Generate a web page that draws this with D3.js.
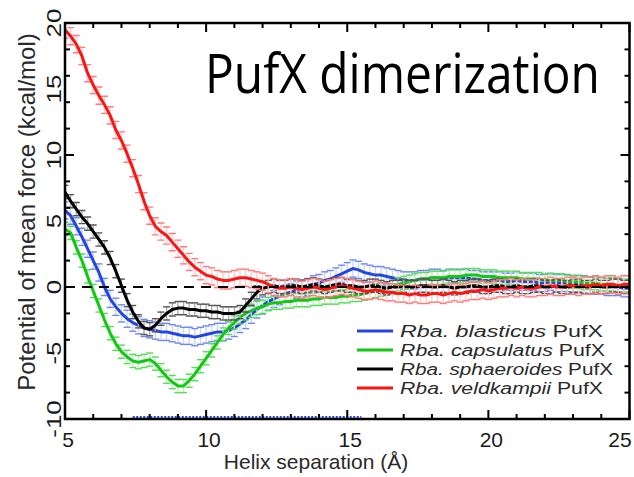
<!DOCTYPE html>
<html><head><meta charset="utf-8">
<script src="https://cdn.jsdelivr.net/npm/d3@7"></script>
<style>body{margin:0;background:#fff}svg{display:block}</style>
</head><body>
<svg id="c" width="634" height="477"></svg>
<script>
// Sampling grid (Å) for all series
const separation = d3.range(0, 101).map(i => +(5 + i * 0.2).toFixed(1));

const blasticus = [5.8,5.4,4.6,3.8,2.9,2.0,1.1,0.0,-0.9,-1.5,
 -2.0,-2.4,-2.7,-2.9,-3.1,-3.2,-3.3,-3.4,-3.4,-3.5,
 -3.6,-3.7,-3.7,-3.8,-3.7,-3.6,-3.5,-3.4,-3.4,-3.3,
 -3.1,-2.8,-2.5,-2.1,-1.7,-1.4,-1.1,-0.9,-0.7,-0.5,
 -0.4,-0.2,-0.1,0.0,0.2,0.3,0.5,0.6,0.8,1.0,
 1.2,1.4,1.3,1.1,1.0,0.9,0.9,0.8,0.7,0.6,
 0.5,0.5,0.5,0.6,0.6,0.7,0.7,0.6,0.7,0.7,
 0.7,0.7,0.6,0.6,0.5,0.5,0.5,0.5,0.4,0.4,
 0.5,0.4,0.4,0.4,0.3,0.3,0.4,0.3,0.3,0.3,
 0.2,0.2,0.2,0.1,0.1,0.1,0.0,0.0,0.0,-0.1,-0.1];

const capsulatus = [4.4,4.1,3.0,2.0,0.8,-0.3,-1.4,-2.5,-3.5,-4.3,
 -4.9,-5.3,-5.6,-5.7,-5.6,-5.5,-5.8,-6.3,-6.8,-7.2,
 -7.5,-7.5,-7.1,-6.6,-6.0,-5.4,-4.8,-4.2,-3.6,-3.1,
 -2.7,-2.3,-2.0,-1.8,-1.6,-1.5,-1.3,-1.2,-1.2,-1.1,
 -1.1,-1.0,-1.0,-1.0,-0.9,-0.9,-0.8,-0.8,-0.8,-0.7,
 -0.7,-0.6,-0.6,-0.5,-0.4,-0.3,-0.2,-0.1,0.0,0.2,
 0.3,0.4,0.5,0.6,0.6,0.7,0.7,0.7,0.8,0.8,
 0.8,0.9,0.9,0.9,0.8,0.8,0.8,0.7,0.7,0.7,
 0.7,0.6,0.6,0.6,0.6,0.5,0.5,0.5,0.5,0.4,
 0.4,0.4,0.3,0.3,0.3,0.2,0.2,0.2,0.1,0.1,0.1];

const sphaeroides = [7.2,6.5,5.9,5.3,4.8,4.2,3.6,3.0,2.2,1.2,
 0.1,-1.0,-1.9,-2.6,-3.1,-3.2,-2.9,-2.4,-2.0,-1.7,
 -1.6,-1.6,-1.7,-1.7,-1.8,-1.8,-1.9,-1.9,-2.0,-2.0,
 -2.0,-1.9,-1.4,-0.9,-0.4,-0.1,0.0,0.1,0.0,0.0,
 0.1,0.1,0.0,0.1,0.2,0.1,0.0,0.1,0.2,0.2,
 0.1,0.1,0.0,0.0,0.1,0.1,0.0,-0.1,0.0,0.0,
 0.1,0.0,0.0,0.1,0.1,0.0,0.0,0.1,0.0,-0.1,
 0.0,0.0,0.1,0.1,0.0,0.0,0.1,0.1,0.0,0.0,
 0.1,0.0,0.0,0.1,0.1,0.0,0.0,0.1,0.0,0.0,
 0.1,0.1,0.0,0.0,0.1,0.0,0.0,0.1,0.1,0.0,0.0];

const veldkampii = [19.5,19.0,18.4,17.5,16.2,15.3,14.5,13.8,13.0,11.9,
 11.1,10.1,9.0,7.8,6.5,5.4,4.6,4.2,3.9,3.4,
 2.9,2.4,1.9,1.5,1.2,0.9,0.8,0.6,0.5,0.5,
 0.6,0.7,0.7,0.6,0.5,0.4,0.2,0.0,-0.1,-0.1,
 0.0,-0.1,-0.2,-0.1,0.0,-0.1,-0.2,-0.1,0.0,0.1,
 0.0,-0.1,-0.2,-0.3,-0.3,-0.2,-0.3,-0.4,-0.4,-0.5,
 -0.5,-0.6,-0.5,-0.6,-0.6,-0.5,-0.5,-0.6,-0.5,-0.4,
 -0.5,-0.4,-0.3,-0.3,-0.2,-0.3,-0.2,-0.1,-0.1,0.0,
 -0.1,0.0,-0.1,-0.1,0.0,0.0,0.1,0.0,0.0,0.1,
 0.1,0.0,0.1,0.1,0.2,0.1,0.2,0.2,0.1,0.2,0.2];

const seriesNames = ["Rba. blasticus", "Rba. capsulatus", "Rba. sphaeroides", "Rba. veldkampii"];
const seriesValues = [blasticus, capsulatus, sphaeroides, veldkampii];
const seriesError = [0.65, 0.5, 0.5, 0.65];
const seriesColors = ["#2346e0", "#12c812", "#000000", "#ff1414"];
const errorColors = ["#6f88ee", "#55dd55", "#555555", "#ff7a7a"];
const errorFill = ["#c9d3f8", "#bff0bf", "#aaaaaa", "#ffcccc"];

const xTickLabels = [5, 10, 15, 20, 25];
const yTickLabels = [-10, -5, 0, 5, 10, 15, 20];
const bottomMarkRange = [7.4, 15.5];

const svg = d3.select("#c");
const pLeft = 65, pRight = 629.5, pTop = 23, pBottom = 419;

const x = d3.scaleLinear().domain([5, 25]).range([pLeft, pRight]);
const y = d3.scaleLinear().domain([-10, 20]).range([pBottom, pTop]);

svg.append("defs").append("clipPath").attr("id", "clip")
  .append("rect").attr("x", pLeft).attr("y", pTop).attr("width", pRight - pLeft).attr("height", pBottom - pTop);

const plot = svg.append("g").attr("clip-path", "url(#clip)");

const line = d3.line().x(d => x(d[0])).y(d => y(d[1])).curve(d3.curveLinear);
seriesValues.forEach((vals, si) => {
  const pts = separation.map((s, i) => [s, vals[i]]);
  const e = seriesError[si];
  const g = plot.append("g");
  g.selectAll("line.v").data(pts).join("line")
    .attr("x1", d => x(d[0])).attr("x2", d => x(d[0]))
    .attr("y1", d => y(d[1] - e)).attr("y2", d => y(d[1] + e))
    .attr("stroke", errorFill[si]).attr("stroke-width", 1.3);
  [-1, 1].forEach(sgn => {
    g.append("g").selectAll("line").data(pts).join("line")
      .attr("x1", d => x(d[0]) - 3.5).attr("x2", d => x(d[0]) + 3.5)
      .attr("y1", d => y(d[1] + sgn * e)).attr("y2", d => y(d[1] + sgn * e))
      .attr("stroke", errorColors[si]).attr("stroke-width", 1.4);
  });
  g.append("path").datum(pts).attr("d", line)
    .attr("fill", "none").attr("stroke", seriesColors[si]).attr("stroke-width", 3)
    .attr("stroke-linejoin", "round");
});

plot.append("line")
  .attr("x1", x(5)).attr("x2", x(25)).attr("y1", y(0)).attr("y2", y(0))
  .attr("stroke", "#000").attr("stroke-width", 2).attr("stroke-dasharray", "10,7");

plot.append("line")
  .attr("x1", x(bottomMarkRange[0])).attr("x2", x(bottomMarkRange[1]))
  .attr("y1", y(-10) - 2).attr("y2", y(-10) - 2)
  .attr("stroke", "#2346e0").attr("stroke-width", 1.8).attr("stroke-dasharray", "2,1.5");

const xMinor = d3.range(5, 26, 1);
const yMinor = d3.range(-10, 21, 2);
const tickG = svg.append("g").attr("stroke", "#000").attr("stroke-width", 2);
xMinor.forEach(v => {
  const L = v % 5 === 0 ? 9 : 5;
  tickG.append("line").attr("x1", x(v)).attr("x2", x(v)).attr("y1", pBottom).attr("y2", pBottom - L);
  tickG.append("line").attr("x1", x(v)).attr("x2", x(v)).attr("y1", pTop).attr("y2", pTop + L);
});
yMinor.forEach(v => {
  const L = v % 10 === 0 ? 9 : 5;
  tickG.append("line").attr("x1", pLeft).attr("x2", pLeft + L).attr("y1", y(v)).attr("y2", y(v));
  tickG.append("line").attr("x1", pRight).attr("x2", pRight - L).attr("y1", y(v)).attr("y2", y(v));
});

svg.append("rect").attr("x", pLeft).attr("y", pTop).attr("width", pRight - pLeft).attr("height", pBottom - pTop)
  .attr("fill", "none").attr("stroke", "#000").attr("stroke-width", 2.5);

svg.append("g").selectAll("text").data(xTickLabels).join("text")
  .attr("x", d => Math.min(x(d) + 3, 620)).attr("y", 447)
  .attr("text-anchor", "middle")
  .attr("font-family", "Liberation Sans, Arial, sans-serif").attr("font-size", 21).attr("fill", "#1a1a1a")
  .text(d => d);

svg.append("g").selectAll("text").data(yTickLabels).join("text")
  .attr("transform", d => `translate(54,${y(d)}) rotate(-90) scale(1.3,1)`)
  .attr("text-anchor", "middle").attr("dominant-baseline", "central")
  .attr("font-family", "Liberation Sans, Arial, sans-serif").attr("font-size", 20).attr("fill", "#1a1a1a")
  .text(d => d);

svg.append("text").attr("x", 316).attr("y", 469).attr("text-anchor", "middle")
  .attr("font-family", "Liberation Sans, Arial, sans-serif").attr("font-size", 21).attr("fill", "#2a2a2a")
  .text("Helix separation (Å)");
svg.append("text").attr("transform", "translate(35,212) rotate(-90)").attr("text-anchor", "middle")
  .attr("font-family", "Liberation Sans, Arial, sans-serif").attr("font-size", 24).attr("fill", "#2a2a2a")
  .text("Potential of mean force (kcal/mol)");

// title: natural text, horizontally scaled to the reference width
const title = svg.append("text").attr("x", 0).attr("y", 0)
  .attr("font-family", "Open Sans, Noto Sans, sans-serif").attr("font-size", 54).attr("fill", "#000")
  .text("PufX dimerization");
const tw = title.node().getComputedTextLength() || 450;
title.attr("transform", `translate(205,93) scale(${395 / tw},1)`);

const legY = [331, 350, 369, 388];
const legW = [203, 205, 213, 203];
const leg = svg.append("g");
seriesNames.forEach((n, i) => {
  leg.append("line").attr("x1", 357).attr("x2", 393).attr("y1", legY[i]).attr("y2", legY[i])
    .attr("stroke", seriesColors[i]).attr("stroke-width", 3);
  const t = leg.append("text")
    .attr("x", 400).attr("y", legY[i])
    .attr("textLength", legW[i]).attr("lengthAdjust", "spacingAndGlyphs")
    .attr("dominant-baseline", "central")
    .attr("font-family", "Liberation Sans, Arial, sans-serif").attr("font-size", 16).attr("fill", "#2a2a2a");
  t.append("tspan").attr("font-style", "italic").text(n);
  t.append("tspan").text(" PufX");
});
</script>
</body></html>
